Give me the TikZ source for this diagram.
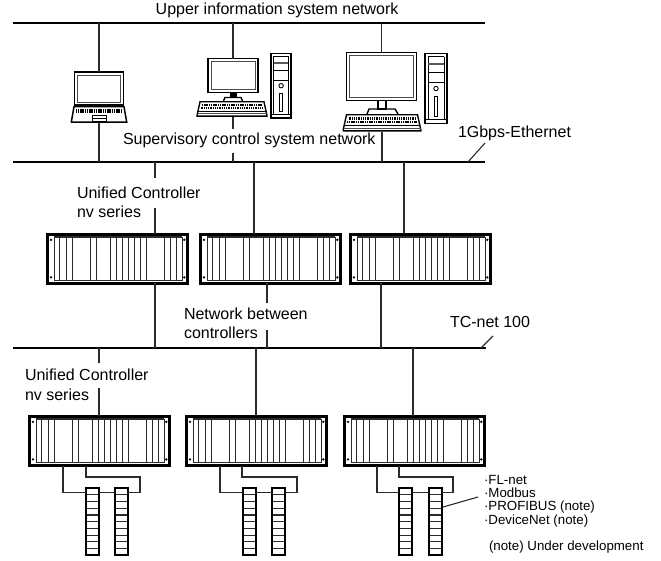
\documentclass[tikz,border=0pt]{standalone}
\usepackage{fontspec}
\setmainfont{Liberation Sans}
\definecolor{wire}{HTML}{2B2B2B}
\newcommand\pbs{1}
\newcommand\pbc[2]{([shift={(\pbs*#1,\pbs*#2)}]path picture bounding box.north west)}
\begin{document}
\begin{tikzpicture}[x=1pt, y=-1pt,
  bus/.style={line width=2, black},
  link/.style={line width=1.3, wire},
  thin link/.style={line width=1.1, wire},
  lbl/.style={inner sep=0, outer sep=0, anchor=west, align=left, font=\fontsize{16}{19.5}\selectfont},
  note/.style={inner sep=0, outer sep=0, anchor=west, align=left, font=\fontsize{13.3}{13.4}\selectfont},
  rack/.style={rectangle, draw=black, line width=2.8, inner sep=0, outer sep=0, anchor=north west,
    minimum width=140.4, minimum height=48.9,
    path picture={
      \foreach \v in {7,12.3,18.7,25.3,43,49,63,68.7,75.3,81.3,87,93,99,116.7,123.3,128.7,134.7}
        \draw[line width=1.2, wire] \pbc{\v}{2.5} -- \pbc{\v}{47};
      \draw[line width=1.2, wire] \pbc{7}{2.5} -- \pbc{134.7}{2.5};
      \draw[line width=1.4, wire] \pbc{7}{45.8} -- \pbc{134.7}{45.8};
      \foreach \u in {3.6,136.9}
        \foreach \w in {5.4,43} \fill[black] \pbc{\u}{\w} circle (1.3);}},
  iomod/.style={rectangle, draw=black, line width=2.4, inner sep=0, outer sep=0, anchor=north west,
    minimum width=13, minimum height=67,
    path picture={
      \foreach \w in {1,...,9}
        \draw[line width=1.1, wire] \pbc{0}{\w*6.7} -- \pbc{14}{\w*6.7};}},
  screen/.style={rectangle, draw=black, line width=1.7, inner sep=0, outer sep=0, anchor=north,
    path picture={
      \draw[line width=.8, black!70]
        ([shift={(3,3)}]path picture bounding box.north west) rectangle
        ([shift={(-3,-3)}]path picture bounding box.south east);}},
  keyb/.style={rectangle, inner sep=0, outer sep=0, anchor=north,
    minimum width=79*#1, minimum height=18*#1,
    path picture={
      \renewcommand\pbs{#1}
      \draw[line width=1.4, black, fill=white] \pbc{4}{.7} -- \pbc{75}{.7} -- \pbc{78.5}{16.8} -- \pbc{.5}{16.8} -- cycle;
      \draw[line width=2.5*#1, black, dash pattern=on 1.1 off .7] \pbc{6}{4.5} -- \pbc{73}{4.5};
      \draw[line width=2.5*#1, black, dash pattern=on 1.1 off .7] \pbc{4.5}{8} -- \pbc{74.5}{8};
      \draw[line width=1*#1, black] \pbc{2}{11.5} -- \pbc{77}{11.5};
      \draw[line width=.8, black!70] \pbc{1.5}{14.3} -- \pbc{78}{14.3};}},
  lapbase/.style={rectangle, inner sep=0, outer sep=0, anchor=north,
    minimum width=57, minimum height=17,
    path picture={
      \draw[line width=1.5, black, fill=white] \pbc{3.5}{.7} -- \pbc{53.5}{.7} -- \pbc{56.2}{16} -- \pbc{.8}{16} -- cycle;
      \draw[line width=4, black, dash pattern=on 1.1 off .7] \pbc{5.5}{5} -- \pbc{51}{5};
      \draw[line width=1, black] \pbc{21.5}{9.5} rectangle \pbc{35.5}{15.5};
      \draw[line width=1, black] \pbc{21.5}{12.5} -- \pbc{35.5}{12.5};}},
  tower/.style={rectangle, draw=black, line width=1.5, inner sep=0, outer sep=0, anchor=north west,
    minimum width=22*#1, minimum height=70*#1,
    path picture={
      \renewcommand\pbs{#1}
      \draw[line width=.9, black] \pbc{3}{3} -- \pbc{3}{66} \pbc{19}{3} -- \pbc{19}{66} \pbc{3}{3} -- \pbc{19}{3} \pbc{0}{66} -- \pbc{22}{66};
      \draw[line width=2.4, black!65] \pbc{3}{10.5} -- \pbc{19}{10.5};
      \draw[line width=1, black] \pbc{3}{19} -- \pbc{19}{19} \pbc{3}{29} -- \pbc{19}{29};
      \draw[line width=.9, black] \pbc{11}{35} circle (2.2);
      \draw[line width=.9, black] \pbc{9.5}{43} rectangle \pbc{12.5}{63};}}
]
  \useasboundingbox (0,0) rectangle (661,560);
  % buses
  \coordinate (b1w) at (13,23);   \coordinate (b1e) at (485,23);
  \coordinate (b2w) at (13,162);  \coordinate (b2e) at (485,162);
  \coordinate (b3w) at (13,348);  \coordinate (b3e) at (486,348);
  \draw[bus] (b1w) -- (b1e);
  \draw[bus] (b2w) -- (b2e);
  \draw[bus] (b3w) -- (b3e);
  \node[lbl] (upper) at (155.7,10) {Upper information system network};
  % computers
  \node[screen, minimum width=49, minimum height=33] (lap) at (99,72) {};
  \node[lapbase] (lapb) at (99,106) {};
  \node[screen, minimum width=50, minimum height=34] (mon1) at (233,58.5) {};
  \fill[black] (229.5,93) rectangle (236.5,98);
  \draw[line width=1.4, black] (223.5,101) -- (225,97.5) -- (241,97.5) -- (242.5,101);
  \node[keyb=.9] (key1) at (232,101) {};
  \node[tower=.92] (tow1) at (271,53.5) {};
  \node[screen, minimum width=70, minimum height=48] (mon2) at (381.5,52.5) {};
  \draw[line width=1.4, black, fill=white] (378,100.5) rectangle (386,109);
  \draw[line width=1.4, black] (367,114) -- (369,109) -- (395,109) -- (398,114);
  \node[keyb=1] (key2) at (382,114) {};
  \node[tower=1] (tow2) at (425,53.5) {};
  \draw[link] (lap.north |- b1w) -- (lap.north);
  \draw[link] (lapb.south) -- (lapb.south |- b2w);
  \draw[link] (mon1.north |- b1w) -- (mon1.north);
  \draw[link] (mon2.north |- b1w) -- (mon2.north);
  \draw[link] (key2.south) -- (key2.south |- b2w);
  \node[lbl] (sup) at (123,140) {Supervisory control system network};
  \coordinate (gap0a) at (233,129);
  \coordinate (gap0b) at (233,153);
  \draw[link] (key1.south -| gap0a) -- (gap0a);
  \draw[link] (gap0b) -- (gap0b |- b2w);
  % upper controllers
  \foreach \i/\x/\y in {1/46/233,2/199/233,3/349/233,4/28/415,5/185/415,6/343/415}
    \node[rack] (r\i) at (\x+1.4,\y+1.4) {};
  \node[lbl] (gbps) at (458,133) {1Gbps-Ethernet};
  \coordinate (gbpsa) at (485,143);
  \coordinate (gbpsb) at (468,162);
  \draw[thin link] (gbpsa) -- (gbpsb);
  \node[lbl] (ctl1) at (77,202.5) {Unified Controller\\nv series};
  \coordinate (gap1a) at (155,178);
  \coordinate (gap1b) at (155,208);
  \draw[link] (gap1a |- b2w) -- (gap1a);
  \draw[link] (gap1b) -- (gap1b |- r1.north);
  \coordinate (s2) at (254,233);
  \coordinate (s3) at (404,233);
  \draw[link] (s2 |- b2w) -- (s2 |- r2.north);
  \draw[link] (s3 |- b2w) -- (s3 |- r3.north);
  \coordinate (n1) at (155,284);
  \coordinate (n3) at (381,284);
  \draw[link] (n1 |- r1.south) -- (n1 |- b3w);
  \draw[link] (n3 |- r3.south) -- (n3 |- b3w);
  \node[lbl] (netw) at (184,323.5) {Network between\\controllers};
  \coordinate (gap2a) at (267,303);
  \coordinate (gap2b) at (267,330);
  \draw[link] (gap2a |- r2.south) -- (gap2a);
  \draw[link] (gap2b) -- (gap2b |- b3w);
  \node[lbl] (tcnet) at (450,322) {TC-net 100};
  \coordinate (tcneta) at (493,336);
  \coordinate (tcnetb) at (481,348);
  \draw[thin link] (tcneta) -- (tcnetb);
  % lower controllers
  \node[lbl] (ctl2) at (25,385) {Unified Controller\\nv series};
  \coordinate (gap3a) at (99,363);
  \coordinate (gap3b) at (99,388);
  \draw[link] (gap3a |- b3w) -- (gap3a);
  \draw[link] (gap3b) -- (gap3b |- r4.north);
  \coordinate (s5) at (256,415);
  \coordinate (s6) at (413,415);
  \draw[link] (s5 |- b3w) -- (s5 |- r5.north);
  \draw[link] (s6 |- b3w) -- (s6 |- r6.north);
  % i/o modules
  \foreach \i/\x/\a/\b/\c/\d/\e in {4/28/35/58/112/57/86,5/185/35/57/112/57/86,6/343/34/56/110/55/85}{
    \node[iomod] (ma\i) at (\x+\d+1.2,488.2) {};
    \node[iomod] (mb\i) at (\x+\e+1.2,488.2) {};
    \coordinate (ca\i) at (\x+\a,466);
    \coordinate (cb\i) at (\x+\b,466);
    \coordinate (ja\i) at (\x+\a,492.5);
    \coordinate (jb\i) at (\x+\c,492.5);
    \coordinate (jc\i) at (\x+\c,477);
    \coordinate (jd\i) at (\x+\b,477);
    \draw[thin link] (ca\i) -- (ja\i) -- (ja\i -| ma\i.west);
    \draw[thin link] (ja\i -| ma\i.east) -- (ja\i -| mb\i.west);
    \draw[thin link] (ja\i -| mb\i.east) -- (jb\i) -- (jc\i) -- (jd\i) -- (cb\i);
  }
  \node[note] (prot) at (484,501) {·FL-net\\·Modbus\\·PROFIBUS (note)\\·DeviceNet (note)};
  \coordinate (prota) at (478,497);
  \coordinate (protb) at (443,507);
  \draw[thin link] (prota) -- (protb);
  \node[note] (under) at (489,547) {(note) Under development};
\end{tikzpicture}
\end{document}
